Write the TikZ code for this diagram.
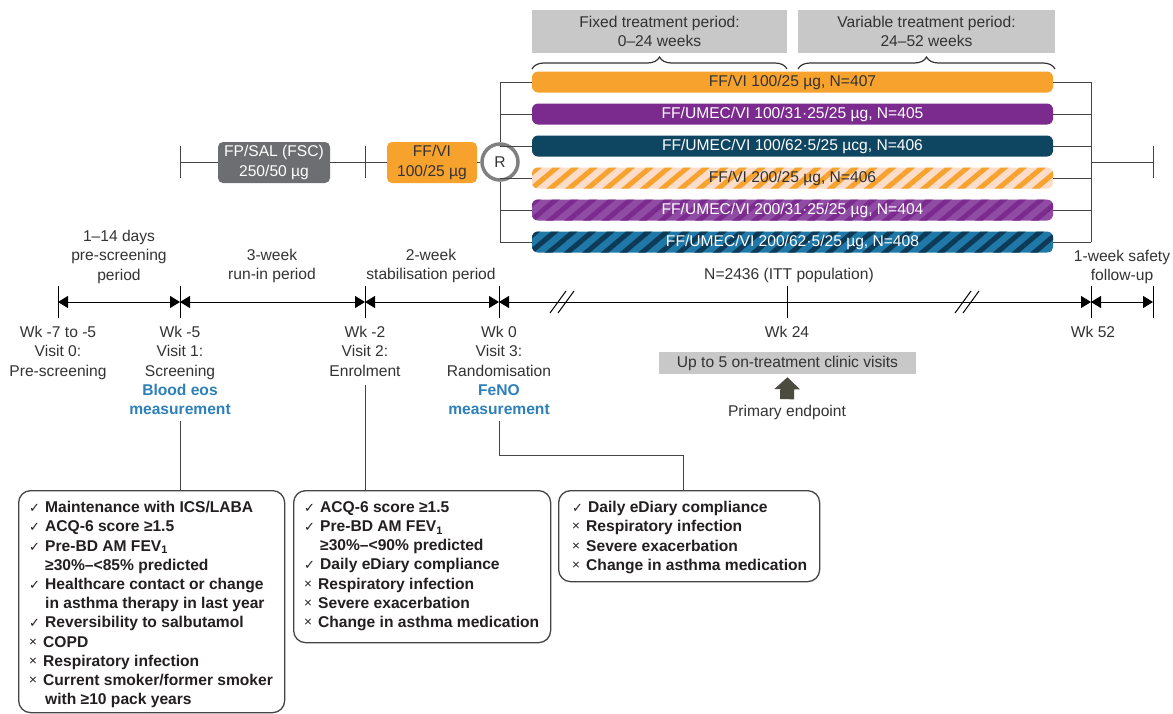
\documentclass[tikz,border=0pt]{standalone}
\usepackage{fontspec}
\setmainfont{Liberation Sans}
\newfontfamily\symf{DejaVu Sans}
\usetikzlibrary{arrows.meta,decorations.pathreplacing,patterns.meta}

\definecolor{txt}{HTML}{333333}
\definecolor{boxtxt}{HTML}{231F20}
\definecolor{lgray}{HTML}{C8C8C8}
\definecolor{dgray}{HTML}{6D6E71}
\definecolor{orng}{HTML}{F7A22C}
\definecolor{purp}{HTML}{7B2A8E}
\definecolor{navy}{HTML}{0E4561}
\definecolor{peach}{HTML}{FDDCC9}
\definecolor{lpurp}{HTML}{904CA4}
\definecolor{blu}{HTML}{1F78A8}
\definecolor{dnavy}{HTML}{0D3A56}
\definecolor{eos}{HTML}{2E80B8}
\definecolor{lin}{HTML}{444444}
\definecolor{arrw}{HTML}{4B4B3F}
\definecolor{rgray}{HTML}{808080}

\newcommand\ckm{\makebox[16pt][l]{\symf\fontsize{13}{13}\selectfont\mdseries ✓}}
\newcommand\crm{\makebox[14pt][l]{\raisebox{1pt}{\fontsize{13.5}{13.5}\selectfont\mdseries ×}}}
\newcommand\ind{\hspace*{16pt}}

\tikzset{
  lbl/.style={align=center, inner sep=0pt, anchor=north, text=txt},
  hdr/.style={fill=lgray, align=center, inner sep=0pt, text=txt},
  bar/.style={rounded corners=6pt, minimum width=521pt, minimum height=21pt, inner sep=0pt},
  conn/.style={draw=lin, line width=1pt},
  tl/.style={draw=black, line width=1pt},
  tick/.style={draw=black, line width=1pt},
  dbl/.style={draw=black, line width=1pt, {Triangle[length=10pt,width=12pt]}-{Triangle[length=10pt,width=12pt]}},
  crit/.style={draw=lin, line width=1.3pt, rounded corners=12pt, inner sep=0pt},
  crittxt/.style={align=left, inner sep=0pt, anchor=north west, text=boxtxt, font=\fontsize{15.6}{19.2}\selectfont\bfseries},
  brc/.style={draw=txt, line width=1.2pt, decorate, decoration={brace, amplitude=12pt}},
}

\begin{document}
\begin{tikzpicture}[x=1pt, y=-1pt, font=\fontsize{15.6}{19.2}\selectfont]
\useasboundingbox[fill=white] (0,0) rectangle (1173,713);

% ---- header boxes and braces
\node[hdr, minimum width=255pt, minimum height=43pt] (fixed) at (659.5,31.5) {Fixed treatment period:\\0–24 weeks};
\node[hdr, minimum width=257pt, minimum height=43pt] (var) at (926.5,31.5) {Variable treatment period:\\24–52 weeks};
\coordinate (bra) at (532,69);
\coordinate (brb) at (787,69);
\coordinate (brc) at (798,69);
\coordinate (brd) at (1055,69);
\draw[brc] (bra) -- (brb);
\draw[brc] (brc) -- (brd);

% ---- treatment bars
\node[bar, fill=orng, text=txt] (b1) at (792.5,82) {FF/VI 100/25 µg, N=407};
\node[bar, fill=purp, text=white] (b2) at (792.5,114) {FF/UMEC/VI 100/31·25/25 µg, N=405};
\node[bar, fill=navy, text=white] (b3) at (792.5,146) {FF/UMEC/VI 100/62·5/25 µcg, N=406};
\node[bar, fill=peach, text=txt, postaction={pattern={Lines[angle=40,distance=12pt,line width=5pt]}, pattern color=orng}] (b4) at (792.5,178) {};
\node[bar, fill=lpurp, text=white, postaction={pattern={Lines[angle=40,distance=12pt,line width=5pt]}, pattern color=purp}] (b5) at (792.5,210) {};
\node[bar, fill=blu, text=white, postaction={pattern={Lines[angle=40,distance=12pt,line width=5pt]}, pattern color=dnavy}] (b6) at (792.5,242) {};
\node[text=txt, inner sep=0pt] (b4t) at (b4) {FF/VI 200/25 µg, N=406};
\node[text=white, inner sep=0pt] (b5t) at (b5) {FF/UMEC/VI 200/31·25/25 µg, N=404};
\node[text=white, inner sep=0pt] (b6t) at (b6) {FF/UMEC/VI 200/62·5/25 µg, N=408};

% ---- randomisation and run-in chain
\node[circle, draw=rgray, line width=3.5pt, fill=white, minimum size=36pt, inner sep=0pt, text=txt] (R) at (500,162) {R};
\node[fill=dgray, text=white, rounded corners=5pt, minimum width=112pt, minimum height=41pt, align=center, inner sep=0pt] (fsc) at (274,162.5) {FP/SAL (FSC)\\250/50 µg};
\node[fill=orng, text=txt, rounded corners=5pt, minimum width=90pt, minimum height=41pt, align=center, inner sep=0pt] (ffvi) at (432,162.5) {FF/VI\\100/25 µg};
\coordinate (t1) at (180,162);
\coordinate (t2) at (365,162);
\draw[conn] (t1) -- (fsc.west |- t1);
\draw[conn] (fsc.east |- t2) -- (ffvi.west |- t2);
\draw[conn] (ffvi.east |- R) -- (R.west);
\draw[conn] ([yshift=16pt]t1) -- ([yshift=-16pt]t1);
\draw[conn] ([yshift=16pt]t2) -- ([yshift=-16pt]t2);

% left split
\coordinate (lx) at (500,0);
\draw[conn] (b1.west -| lx) -- (R.north);
\draw[conn] (R.south) -- (b6.west -| lx);
\foreach \b in {b1,b2,b3,b4,b5,b6} \draw[conn] (\b.west -| lx) -- (\b.west);
% right merge
\coordinate (rx) at (1091,0);
\coordinate (rend) at (1153,162);
\draw[conn] (b1.east -| rx) -- (b6.east -| rx);
\foreach \b in {b1,b2,b3,b4,b5,b6} \draw[conn] (\b.east) -- (\b.east -| rx);
\draw[conn] (rx |- rend) -- (rend);
\draw[conn] ([yshift=16pt]rend) -- ([yshift=-16pt]rend);

% ---- timeline
\coordinate (w7) at (58,302);
\coordinate (w5) at (180,302);
\coordinate (w2) at (365,302);
\coordinate (w0) at (499,302);
\coordinate (w24) at (787,302);
\coordinate (w52) at (1091,302);
\coordinate (wend) at (1153,302);
\foreach \w in {w7,w5,w2,w0,w24,w52,wend} \draw[tick] ([yshift=16pt]\w) -- ([yshift=-16pt]\w);
\draw[dbl] (w7) -- (w5);
\draw[dbl] (w5) -- (w2);
\draw[dbl] (w2) -- (w0);
\draw[dbl] (w0) -- (w52);
\draw[dbl] (w52) -- (wend);
% break marks
\draw[tl] (550,313) -- (566,291);
\draw[tl] (558,313) -- (574,291);
\draw[tl] (955,313) -- (971,291);
\draw[tl] (963,313) -- (979,291);

% labels above timeline
\node[lbl] (pre) at (119,230.2) {1–14 days\\pre-screening\\period};
\node[lbl] (run) at (272,249.2) {3-week\\run-in period};
\node[lbl] (stab) at (431,249.2) {2-week\\stabilisation period};
\node[lbl] (itt) at (789,268.2) {N=2436 (ITT population)};
\node[lbl] (safe) at (1122,250.2) {1-week safety\\follow-up};

% labels below timeline
\node[lbl] (v0) at (58,326.2) {Wk -7 to -5\\Visit 0:\\Pre-screening};
\node[lbl] (v1) at (180,326.2) {Wk -5\\Visit 1:\\Screening\\\textcolor{eos}{\bfseries Blood eos}\\\textcolor{eos}{\bfseries measurement}};
\node[lbl] (v2) at (365,326.2) {Wk -2\\Visit 2:\\Enrolment};
\node[lbl] (v3) at (499,326.2) {Wk 0\\Visit 3:\\Randomisation\\\textcolor{eos}{\bfseries FeNO}\\\textcolor{eos}{\bfseries measurement}};
\node[lbl] (v24) at (787,326.2) {Wk 24};
\node[lbl] (v52) at (1093,326.2) {Wk 52};

\node[hdr, minimum width=257pt, minimum height=22pt] (visits) at (787.5,363) {Up to 5 on-treatment clinic visits};
\node[lbl] (pe) at (787,405.2) {Primary endpoint};
\draw[draw=arrw, line width=14pt, -{Triangle[length=12pt,width=25pt]}, shorten <=6pt, shorten >=3pt] (pe.north) -- (visits.south);

% ---- criteria boxes
\node[crit, minimum width=266pt, minimum height=222pt, anchor=north west] (c1) at (18,490) {};
\node[crit, minimum width=257pt, minimum height=152pt, anchor=north west] (c2) at (293,490) {};
\node[crit, minimum width=261pt, minimum height=91pt, anchor=north west] (c3) at (558,490) {};

\node[crittxt] (c1t) at (29,501.2) {\ckm Maintenance with ICS/LABA\\
\ckm ACQ-6 score ≥1.5\\
\ckm Pre-BD AM FEV\textsubscript{1}\\
\ind ≥30\%–<85\% predicted\\
\ckm Healthcare contact or change\\
\ind in asthma therapy in last year\\
\ckm Reversibility to salbutamol\\
\crm COPD\\
\crm Respiratory infection\\
\crm Current smoker/former smoker\\
\ind with ≥10 pack years};

\node[crittxt] (c2t) at (304,501.2) {\ckm ACQ-6 score ≥1.5\\
\ckm Pre-BD AM FEV\textsubscript{1}\\
\ind ≥30\%–<90\% predicted\\
\ckm Daily eDiary compliance\\
\crm Respiratory infection\\
\crm Severe exacerbation\\
\crm Change in asthma medication};

\node[crittxt] (c3t) at (572,501.2) {\ckm Daily eDiary compliance\\
\crm Respiratory infection\\
\crm Severe exacerbation\\
\crm Change in asthma medication};

% connectors to criteria boxes
\draw[conn] ([yshift=-6pt]v1.south) -- (v1.south |- c1.north);
\draw[conn] ([yshift=-9pt]v2.south) -- (v2.south |- c2.north);
\coordinate (j3) at (683,455);
\draw[conn] ([yshift=-6pt]v3.south) |- (j3) -- (j3 |- c3.north);

\end{tikzpicture}
\end{document}
